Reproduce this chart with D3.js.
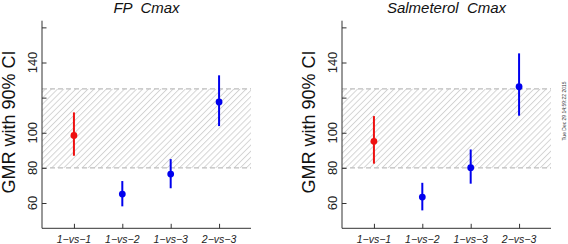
<!DOCTYPE html>
<html>
<head>
<meta charset="utf-8">
<script src="https://cdn.jsdelivr.net/npm/d3@7"></script>
<style>
  body { margin: 0; background: #fff; }
  svg text { font-family: "Liberation Sans", Arial, sans-serif; white-space: pre; }
</style>
</head>
<body>
<div id="chart"></div>
<script>
// comparisons on the x axis
const categories = ["1\u2212vs\u22121", "1\u2212vs\u22122", "1\u2212vs\u22123", "2\u2212vs\u22123"];
const pointColors = ["#ee1111", "#0000ee", "#0000ee", "#0000ee"];

// FP Cmax: GMR estimate and 90% CI
const fpEst = [98.5, 65.1, 76.5, 117.5];
const fpLo  = [86.9, 58.1, 68.4, 103.8];
const fpHi  = [111.6, 72.5, 85.0, 132.7];

// Salmeterol Cmax
const salEst = [95.1, 63.4, 80.1, 126.2];
const salLo  = [82.4, 55.8, 71.0, 109.7];
const salHi  = [109.5, 71.5, 90.5, 145.2];

// y axis ticks (120 and 160 have no label)
const yTicks = [60, 80, 100, 120, 140, 160];
const yTickLabels = [60, 80, 100, 140];

// bioequivalence band
const bandLimits = [80, 125];

const panels = [
  { title: "FP  Cmax", est: fpEst, lo: fpLo, hi: fpHi, offset: 0 },
  { title: "Salmeterol  Cmax", est: salEst, lo: salLo, hi: salHi, offset: 300 }
];

const width = 568;
const height = 244;

const svg = d3.select("#chart")
  .append("svg")
  .attr("width", width)
  .attr("height", height);

// hatch pattern for the band
const defs = svg.append("defs");
defs.append("pattern")
  .attr("id", "hatch")
  .attr("patternUnits", "userSpaceOnUse")
  .attr("width", 4.3)
  .attr("height", 4.3)
  .attr("patternTransform", "rotate(45)")
  .append("line")
  .attr("x1", 0.5).attr("y1", 0)
  .attr("x2", 0.5).attr("y2", 4.3)
  .attr("stroke", "#cdcdcd")
  .attr("stroke-width", 0.85);

const plotL = 42, plotR = 251, plotT = 20.7, plotB = 228.3;

panels.forEach(p => {
  const g = svg.append("g").attr("transform", `translate(${p.offset},0)`);

  const x = d3.scaleLinear()
    .domain([0.34, 4.66])
    .range([plotL, plotR]);

  const y = d3.scaleLinear()
    .domain([45.6, 163.8])
    .range([plotB, plotT]);

  // band
  g.append("rect")
    .attr("x", plotL)
    .attr("y", y(bandLimits[1]))
    .attr("width", plotR - plotL)
    .attr("height", y(bandLimits[0]) - y(bandLimits[1]))
    .attr("fill", "url(#hatch)");

  g.selectAll(".limit")
    .data(bandLimits)
    .enter()
    .append("line")
    .attr("x1", plotL)
    .attr("x2", plotR)
    .attr("y1", d => y(d))
    .attr("y2", d => y(d))
    .attr("stroke", "#bdbdbd")
    .attr("stroke-width", 1.4)
    .attr("stroke-dasharray", "5,3");

  // axes (L shape, ticks pointing inward)
  const yAxis = g.append("g")
    .attr("transform", `translate(${plotL},0)`)
    .call(d3.axisRight(y).tickValues(yTicks).tickSize(4.5).tickFormat(""));
  yAxis.select(".domain").attr("d", `M0,${plotT}V${plotB}`).attr("stroke", "#333");
  yAxis.selectAll(".tick line").attr("stroke", "#333");

  const xAxis = g.append("g")
    .attr("transform", `translate(0,${plotB})`)
    .call(d3.axisTop(x).tickValues([1, 2, 3, 4]).tickSize(4.5).tickFormat(""));
  xAxis.select(".domain").attr("d", `M${plotL},0H${plotR}`).attr("stroke", "#333");
  xAxis.selectAll(".tick line").attr("stroke", "#333");

  // y tick labels, rotated
  g.selectAll(".ylab")
    .data(yTickLabels)
    .enter()
    .append("text")
    .attr("transform", d => `translate(36.5,${y(d)}) rotate(-90)`)
    .attr("text-anchor", "middle")
    .style("font-size", "13px")
    .attr("fill", "#222")
    .text(d => d);

  // x labels
  g.selectAll(".xlab")
    .data(categories)
    .enter()
    .append("text")
    .attr("x", (d, i) => x(i + 1))
    .attr("y", 242.5)
    .attr("text-anchor", "middle")
    .style("font-size", "10.5px")
    .style("font-style", "italic")
    .attr("fill", "#222")
    .text(d => d);

  // y axis title
  g.append("text")
    .attr("transform", `translate(15,122) rotate(-90)`)
    .attr("text-anchor", "middle")
    .style("font-size", "18px")
    .attr("fill", "#111")
    .text("GMR with 90% CI");

  // panel title
  g.append("text")
    .attr("x", (plotL + plotR) / 2)
    .attr("y", 12.5)
    .attr("text-anchor", "middle")
    .style("font-size", "15px")
    .style("font-style", "italic")
    .attr("fill", "#111")
    .text(p.title);

  // error bars
  g.selectAll(".ci")
    .data(p.est)
    .enter()
    .append("line")
    .attr("x1", (d, i) => x(i + 1))
    .attr("x2", (d, i) => x(i + 1))
    .attr("y1", (d, i) => y(p.lo[i]))
    .attr("y2", (d, i) => y(p.hi[i]))
    .attr("stroke", (d, i) => pointColors[i])
    .attr("stroke-width", 2);

  // points
  g.selectAll(".pt")
    .data(p.est)
    .enter()
    .append("circle")
    .attr("cx", (d, i) => x(i + 1))
    .attr("cy", d => y(d))
    .attr("r", 3.4)
    .attr("fill", (d, i) => pointColors[i]);
});

// timestamp in the margin
svg.append("text")
  .attr("transform", "translate(566,111) rotate(-90)")
  .attr("text-anchor", "middle")
  .style("font-size", "5px")
  .attr("fill", "#333")
  .text("Tue Dec 29 14:59:22 2015");
</script>
</body>
</html>
